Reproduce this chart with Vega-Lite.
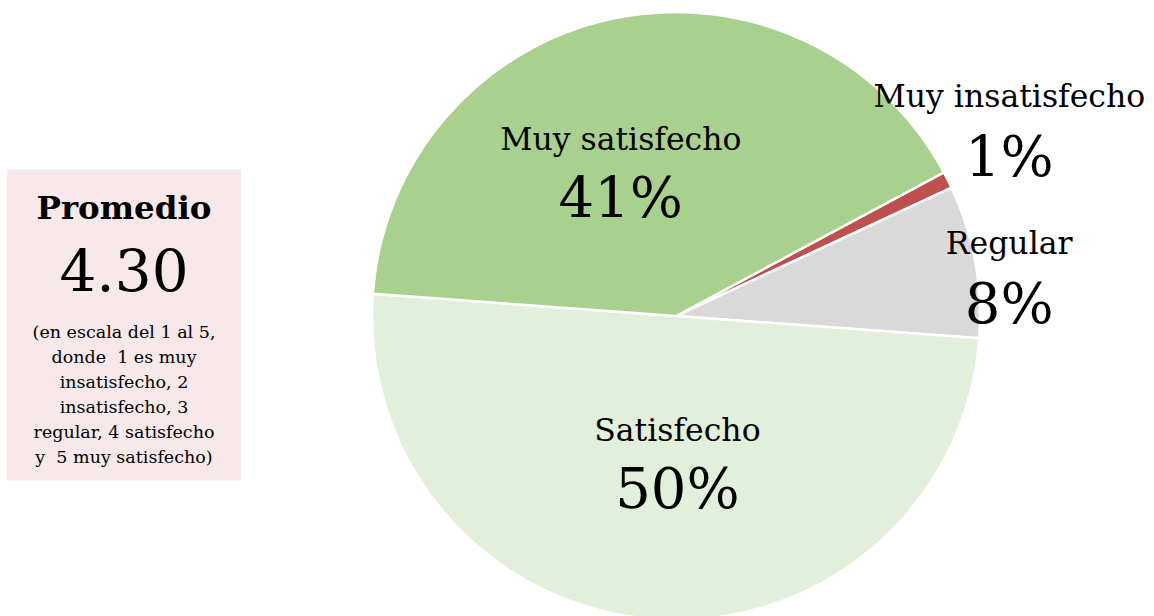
{
  "$schema": "https://vega.github.io/schema/vega-lite/v6.json",
  "padding": {"left": 7, "top": 7, "right": 0, "bottom": 0},
  "background": "white",
  "center": true,
  "bounds": "flush",
  "spacing": 131,
  "config": {"view": {"stroke": null}, "font": "DejaVu Serif", "text": {"font": "DejaVu Serif", "color": "#000000", "baseline": "middle", "align": "center"}},
  "hconcat": [
    {
      "width": 234,
      "height": 311,
      "view": {"fill": "#F7E9E9", "stroke": null},
      "data": {"values": [{"titulo": "Promedio", "valor": 4.30, "nota": "(en escala del 1 al 5,\ndonde \u00a01 es muy\ninsatisfecho, 2\ninsatisfecho, 3\nregular, 4 satisfecho\ny \u00a05 muy satisfecho)"}]},
      "layer": [
        {"mark": {"type": "text", "fontWeight": "bold", "fontSize": 32.5, "dy": -116.5}, "encoding": {"text": {"field": "titulo", "type": "nominal"}}},
        {"mark": {"type": "text", "fontSize": 58, "dy": -51.5}, "encoding": {"text": {"field": "valor", "type": "quantitative", "format": ".2f"}}},
        {"mark": {"type": "text", "fontSize": 17.5, "lineHeight": 25, "lineBreak": "\n", "dy": 8}, "encoding": {"text": {"field": "nota", "type": "nominal"}}}
      ]
    },
    {
      "width": 608,
      "height": 608,
      "data": {"values": [
        {"categoria": "Muy insatisfecho", "valor": 0.009, "orden": 1},
        {"categoria": "Regular", "valor": 0.081, "orden": 2},
        {"categoria": "Satisfecho", "valor": 0.5, "orden": 3},
        {"categoria": "Muy satisfecho", "valor": 0.41, "orden": 4}
      ]},
      "encoding": {
        "theta": {"field": "valor", "type": "quantitative", "stack": true, "scale": {"domain": [0, 1], "range": [1.0786, 7.3618]}},
        "order": {"field": "orden", "type": "quantitative"}
      },
      "layer": [
        {
          "mark": {"type": "arc", "outerRadius": 304, "stroke": "white", "strokeWidth": 2.5, "yOffset": -9},
          "encoding": {"color": {"field": "categoria", "type": "nominal", "legend": null, "scale": {"domain": ["Muy insatisfecho", "Regular", "Satisfecho", "Muy satisfecho"], "range": ["#C0504D", "#D9D9D9", "#E2EFDA", "#A9D18E"]}}}
        },
        {"mark": {"type": "text", "radius": 150, "dx": -24, "dy": -28, "fontSize": 31.5, "yOffset": -9},
         "encoding": {"text": {"condition": {"test": "datum.categoria === 'Muy satisfecho'", "field": "categoria", "type": "nominal"}, "value": ""}}},
        {"mark": {"type": "text", "radius": 150, "dx": -24, "dy": 31, "fontSize": 56, "yOffset": -9},
         "encoding": {"text": {"condition": {"test": "datum.categoria === 'Muy satisfecho'", "field": "valor", "type": "quantitative", "format": ".0%"}, "value": ""}}},
        {"mark": {"type": "text", "radius": 110, "dx": 235, "dy": -169, "fontSize": 31.5, "yOffset": -9},
         "encoding": {"text": {"condition": {"test": "datum.categoria === 'Muy insatisfecho'", "field": "categoria", "type": "nominal"}, "value": ""}}},
        {"mark": {"type": "text", "radius": 110, "dx": 235, "dy": -108, "fontSize": 56, "yOffset": -9},
         "encoding": {"text": {"condition": {"test": "datum.categoria === 'Muy insatisfecho'", "field": "valor", "type": "quantitative", "format": ".0%"}, "value": ""}}},
        {"mark": {"type": "text", "radius": 110, "dx": 225, "dy": -51, "fontSize": 31.5, "yOffset": -9},
         "encoding": {"text": {"condition": {"test": "datum.categoria === 'Regular'", "field": "categoria", "type": "nominal"}, "value": ""}}},
        {"mark": {"type": "text", "radius": 110, "dx": 225, "dy": 10, "fontSize": 56, "yOffset": -9},
         "encoding": {"text": {"condition": {"test": "datum.categoria === 'Regular'", "field": "valor", "type": "quantitative", "format": ".0%"}, "value": ""}}},
        {"mark": {"type": "text", "radius": 145, "dx": 12, "dy": -29, "fontSize": 31.5, "yOffset": -9},
         "encoding": {"text": {"condition": {"test": "datum.categoria === 'Satisfecho'", "field": "categoria", "type": "nominal"}, "value": ""}}},
        {"mark": {"type": "text", "radius": 145, "dx": 12, "dy": 30, "fontSize": 56, "yOffset": -9},
         "encoding": {"text": {"condition": {"test": "datum.categoria === 'Satisfecho'", "field": "valor", "type": "quantitative", "format": ".0%"}, "value": ""}}}
      ]
    }
  ]
}
